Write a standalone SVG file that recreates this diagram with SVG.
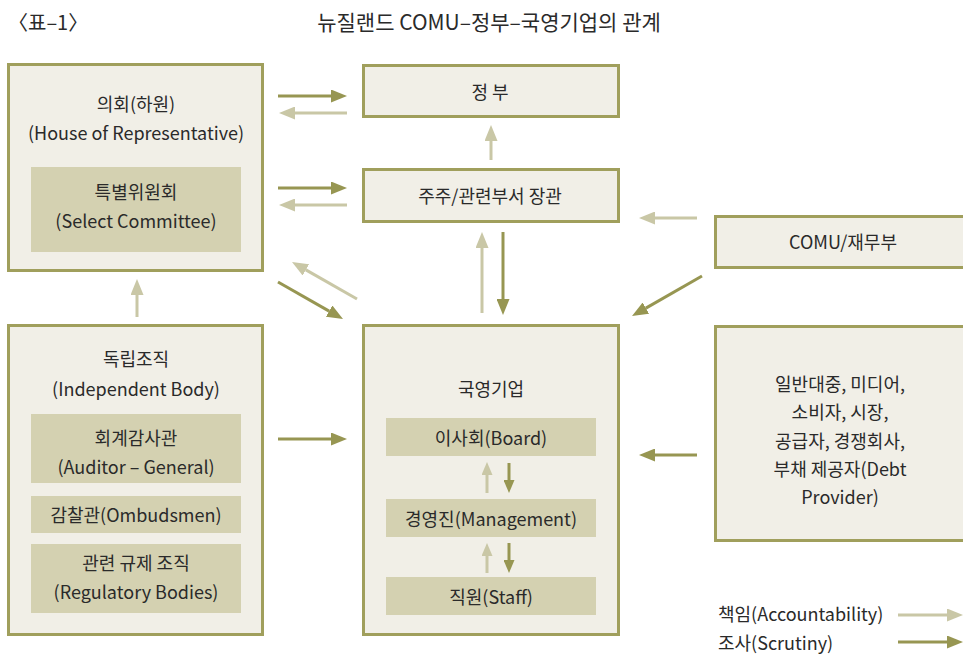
<svg xmlns="http://www.w3.org/2000/svg" width="963" height="654" viewBox="0 0 963 654">
<defs>
<style>
.box{fill:#f1efe7;stroke:#a09f5c;stroke-width:3}
.inner{fill:#d4d1b1}
text{font-family:"Noto Sans CJK KR","Liberation Sans",sans-serif;font-size:18px;fill:#2a2a2a;text-anchor:middle;dominant-baseline:central}
.title{font-size:21px}
.dk{stroke:#979652;stroke-width:3;fill:none}
.lt{stroke:#c9c7a6;stroke-width:3;fill:none}
</style>
<marker id="ad" viewBox="0 0 16 13" refX="0" refY="6.5" markerWidth="16" markerHeight="13" markerUnits="userSpaceOnUse" orient="auto"><path d="M0,0 L16,6.5 L0,13 z" fill="#979652"/></marker>
<marker id="al" viewBox="0 0 16 13" refX="0" refY="6.5" markerWidth="16" markerHeight="13" markerUnits="userSpaceOnUse" orient="auto"><path d="M0,0 L16,6.5 L0,13 z" fill="#c9c7a6"/></marker>
<marker id="ads" viewBox="0 0 13 11" refX="0" refY="5.5" markerWidth="13" markerHeight="11" markerUnits="userSpaceOnUse" orient="auto"><path d="M0,0 L13,5.5 L0,11 z" fill="#979652"/></marker>
<marker id="als" viewBox="0 0 13 11" refX="0" refY="5.5" markerWidth="13" markerHeight="11" markerUnits="userSpaceOnUse" orient="auto"><path d="M0,0 L13,5.5 L0,11 z" fill="#c9c7a6"/></marker>
</defs>
<rect width="963" height="654" fill="#ffffff"/>
<g id="title">
<text class="title" x="8" y="21" style="text-anchor:start;font-size:20px">〈표–1〉</text>
<text class="title" x="489" y="21">뉴질랜드 COMU–정부–국영기업의 관계</text>
</g>
<g id="parliament">
<rect class="box" x="8.5" y="64.5" width="254" height="206"/>
<rect class="inner" x="31" y="167" width="210" height="85"/>
<text x="136" y="103">의회(하원)</text>
<text x="136" y="132">(House of Representative)</text>
<text x="136" y="191">특별위원회</text>
<text x="136" y="220">(Select Committee)</text>
</g>
<g id="government">
<rect class="box" x="363.5" y="65.5" width="255" height="51"/>
<text x="490" y="91">정 부</text>
</g>
<g id="minister">
<rect class="box" x="363.5" y="169.5" width="255" height="52"/>
<text x="490" y="195">주주/관련부서 장관</text>
</g>
<g id="comu">
<rect class="box" x="715.5" y="216.5" width="260" height="51"/>
<text x="843" y="241">COMU/재무부</text>
</g>
<g id="independent">
<rect class="box" x="8.5" y="325.5" width="254" height="309"/>
<rect class="inner" x="31" y="414" width="210" height="69"/>
<rect class="inner" x="31" y="496" width="210" height="37"/>
<rect class="inner" x="31" y="544" width="210" height="69"/>
<text x="136" y="358">독립조직</text>
<text x="136" y="388">(Independent Body)</text>
<text x="136" y="437">회계감사관</text>
<text x="136" y="466">(Auditor – General)</text>
<text x="136" y="514">감찰관(Ombudsmen)</text>
<text x="136" y="562">관련 규제 조직</text>
<text x="136" y="591">(Regulatory Bodies)</text>
</g>
<g id="soe">
<rect class="box" x="363.5" y="325.5" width="255" height="309"/>
<rect class="inner" x="386" y="418" width="210" height="38"/>
<rect class="inner" x="386" y="499" width="210" height="38"/>
<rect class="inner" x="386" y="577" width="210" height="38"/>
<text x="491" y="388">국영기업</text>
<text x="491" y="437">이사회(Board)</text>
<text x="491" y="518">경영진(Management)</text>
<text x="491" y="596">직원(Staff)</text>
</g>
<g id="public">
<rect class="box" x="715.5" y="326.5" width="260" height="214"/>
<text x="840" y="383">일반대중, 미디어,</text>
<text x="840" y="411">소비자, 시장,</text>
<text x="840" y="440">공급자, 경쟁회사,</text>
<text x="840" y="468">부채 제공자(Debt</text>
<text x="840" y="496">Provider)</text>
</g>
<g id="legend">
<text x="718" y="613" style="text-anchor:start">책임(Accountability)</text>
<text x="718" y="642" style="text-anchor:start">조사(Scrutiny)</text>
</g>
<g id="connectors">
<line class="dk" x1="278" y1="96" x2="331" y2="96" marker-end="url(#ad)"/>
<line class="lt" x1="347" y1="113" x2="295" y2="113" marker-end="url(#al)"/>
<line class="dk" x1="278" y1="188" x2="331" y2="188" marker-end="url(#ad)"/>
<line class="lt" x1="347" y1="205" x2="295" y2="205" marker-end="url(#al)"/>
<line class="lt" x1="491" y1="160" x2="491" y2="141" marker-end="url(#al)"/>
<line class="lt" x1="482" y1="313" x2="482" y2="248" marker-end="url(#al)"/>
<line class="dk" x1="503" y1="232" x2="503" y2="299" marker-end="url(#ad)"/>
<line class="lt" x1="697" y1="218" x2="655" y2="218" marker-end="url(#al)"/>
<line class="dk" x1="702" y1="276" x2="645.9" y2="308.1" marker-end="url(#ad)"/>
<line class="dk" x1="278" y1="282" x2="329.1" y2="311.1" marker-end="url(#ad)"/>
<line class="lt" x1="357" y1="299" x2="305.9" y2="269.9" marker-end="url(#al)"/>
<line class="lt" x1="137" y1="317" x2="137" y2="295" marker-end="url(#al)"/>
<line class="dk" x1="278" y1="439" x2="331" y2="439" marker-end="url(#ad)"/>
<line class="dk" x1="697" y1="455" x2="655" y2="455" marker-end="url(#ad)"/>
<line class="lt" x1="487" y1="493" x2="487" y2="475" marker-end="url(#als)"/>
<line class="dk" x1="509" y1="463" x2="509" y2="480" marker-end="url(#ads)"/>
<line class="lt" x1="487" y1="573" x2="487" y2="556" marker-end="url(#als)"/>
<line class="dk" x1="509" y1="543" x2="509" y2="560" marker-end="url(#ads)"/>
<line class="lt" x1="898" y1="615" x2="947" y2="615" marker-end="url(#al)"/>
<line class="dk" x1="898" y1="642" x2="947" y2="642" marker-end="url(#ad)"/>
</g>
</svg>
